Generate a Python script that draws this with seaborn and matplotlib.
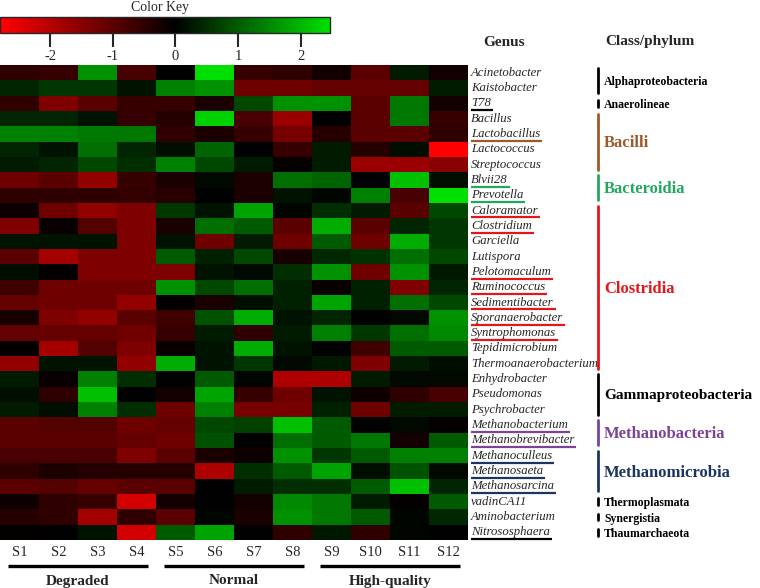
import matplotlib
matplotlib.use("Agg")
import numpy as np
import pandas as pd
import matplotlib.pyplot as plt
import seaborn as sns
from matplotlib.colors import LinearSegmentedColormap, Normalize
from matplotlib.cm import ScalarMappable
from matplotlib.transforms import blended_transform_factory

# Samples and groups
samples = ["S1", "S2", "S3", "S4", "S5", "S6", "S7", "S8", "S9", "S10", "S11", "S12"]
groups = ["Degraded", "Normal", "High-quality"]

# Row z-scores, grouped by class/phylum
alpha_genera = ["Acinetobacter", "Kaistobacter"]
alpha_vals = [
    [-0.5, -0.6, 1.6, -0.8, 0.0, 2.5, -0.6, -0.5, -0.2, -1.0, 0.3, -0.2],
    [0.4, 0.6, 0.6, 0.2, 1.4, 1.6, -1.2, -1.2, -1.1, -1.1, -1.1, 0.3],
]
anaero_genera = ["T78"]
anaero_vals = [
    [-0.5, -1.4, -1.0, -0.6, -0.6, -0.3, 0.8, 1.6, 1.6, -1.0, 1.3, -0.2],
]
bacilli_genera = ["Bacillus", "Lactobacillus", "Lactococcus", "Streptococcus"]
bacilli_vals = [
    [0.4, 0.4, 0.2, -0.6, -0.4, 2.3, -0.8, -1.7, 0.0, -1.0, 1.3, -0.6],
    [1.4, 1.4, 1.3, 1.3, -0.5, -0.3, -0.6, -1.3, -0.4, -1.0, -1.0, -0.5],
    [0.4, 0.2, 1.2, 0.4, 0.15, 1.1, 0.0, -0.6, 0.3, -0.4, 0.15, -2.8],
    [0.3, 0.4, 0.8, 0.5, 1.4, 0.8, 0.3, -0.05, 0.3, -1.7, -1.7, -1.5],
]
bactero_genera = ["Blvii28", "Prevotella"]
bactero_vals = [
    [-1.2, -1.0, -1.6, -0.6, -0.3, 0.1, -0.3, 1.2, 1.1, 0.0, 2.1, 0.15],
    [-0.5, -0.5, -0.5, -0.55, -0.45, 0.02, -0.3, 0.2, 0.05, 1.4, -0.8, 2.5],
]
clostridia_genera = ["Caloramator", "Clostridium", "Garciella", "Lutispora",
                     "Pelotomaculum", "Ruminococcus", "Sedimentibacter",
                     "Sporanaerobacter", "Syntrophomonas", "Tepidimicrobium",
                     "Thermoanaerobacterium"]
clostridia_vals = [
    [-0.15, -1.2, -1.6, -1.4, 0.6, 0.2, 1.8, 0.05, 0.5, 0.3, -1.0, 0.8],
    [-1.4, -0.1, -0.9, -1.4, -0.3, 1.2, 1.0, -1.0, 1.9, -1.0, 0.4, 0.6],
    [0.2, 0.2, 0.2, -1.4, 0.2, -1.2, 0.3, -1.2, 1.0, -1.2, 1.9, 0.6],
    [-1.0, -1.8, -1.4, -1.4, 1.0, 0.35, 0.8, -0.25, 0.45, 0.55, 1.2, 0.8],
    [0.15, -0.05, -1.4, -1.4, -1.4, 0.2, 0.1, 0.5, 1.6, -1.2, 1.6, 0.25],
    [-0.7, -1.2, -1.2, -1.2, 1.6, 0.8, 1.2, 0.35, -0.1, 0.35, -1.4, 0.4],
    [-1.1, -1.2, -1.2, -1.6, -0.05, -0.3, 0.15, 0.35, 1.8, 0.35, 1.2, 0.8],
    [-0.25, -1.4, -1.6, -1.0, -0.7, 0.9, 1.9, 0.2, 0.4, 0.0, 0.1, 1.6],
    [-1.1, -1.1, -1.1, -1.2, -0.6, 0.3, -0.5, 0.3, 1.4, 0.6, 1.2, 1.5],
    [-0.05, -1.8, -0.9, -1.4, -0.1, 0.2, 1.9, 0.2, 0.02, -0.7, 1.0, 1.0],
    [-1.6, 0.2, 0.2, -1.6, 1.9, 0.2, 0.6, 0.1, 0.25, -1.4, 0.3, 0.15],
]
gamma_genera = ["Enhydrobacter", "Pseudomonas", "Psychrobacter"]
gamma_vals = [
    [0.3, -0.1, 1.4, 0.5, 0.0, 1.0, 0.05, -1.9, -1.9, 0.3, 0.1, 0.1],
    [0.15, -0.5, 2.1, 0.0, -0.2, 1.8, -0.6, -1.2, 0.2, -0.15, -0.5, -0.8],
    [0.3, 0.15, 1.4, 0.5, -1.2, 1.4, -1.3, -1.3, 0.35, -1.2, 0.3, 0.3],
]
mbact_genera = ["Methanobacterium", "Methanobrevibacter"]
mbact_vals = [
    [-1.0, -0.9, -0.9, -1.2, -1.1, 0.8, 0.7, 2.1, 1.0, 0.02, 0.1, -0.05],
    [-1.0, -1.0, -1.0, -1.1, -1.2, 0.9, 0.0, 1.2, 1.0, 1.3, -0.2, 1.0],
]
mmicro_genera = ["Methanoculleus", "Methanosaeta", "Methanosarcina"]
mmicro_vals = [
    [-0.8, -0.8, -0.8, -1.4, -1.0, -0.3, -0.15, 1.6, 0.6, 1.0, 1.4, 1.4],
    [-0.5, -0.3, -0.4, -0.4, -0.4, -1.9, 0.5, 1.0, 1.8, 0.15, 0.9, 0.1],
    [-1.0, -0.9, -1.1, -1.0, -1.0, 0.0, 0.3, 0.5, 0.5, 1.0, 2.1, 0.4],
]
other_genera = ["vadinCA11", "Aminobacterium", "Nitrososphaera"]
other_vals = [
    [-0.15, -0.5, -0.6, -2.3, -0.2, 0.0, -0.2, 1.5, 1.3, 0.3, -0.05, 1.0],
    [-0.4, -0.5, -1.8, -0.5, -1.0, 0.05, -0.3, 1.6, 1.3, 1.0, 0.05, 0.45],
    [-0.05, 0.0, 0.2, -2.3, 1.0, 1.8, 0.0, -0.5, 0.25, -0.5, 0.05, 0.0],
]

genera = (alpha_genera + anaero_genera + bacilli_genera + bactero_genera +
          clostridia_genera + gamma_genera + mbact_genera + mmicro_genera + other_genera)
values = (alpha_vals + anaero_vals + bacilli_vals + bactero_vals + clostridia_vals +
          gamma_vals + mbact_vals + mmicro_vals + other_vals)

# Class/phylum brackets: name, first row, last row, colour, font size
brown = "#9C5A28"
green = "#22A85E"
red = "#E4161C"
purple = "#7D4399"
navy = "#1C3464"
classes = [
    ("Alphaproteobacteria", 0, 1, "black", 8.5),
    ("Anaerolineae", 2, 2, "black", 8.5),
    ("Bacilli", 3, 6, brown, 12),
    ("Bacteroidia", 7, 8, green, 12),
    ("Clostridia", 9, 19, red, 12),
    ("Gammaproteobacteria", 20, 22, "black", 11),
    ("Methanobacteria", 23, 24, purple, 12),
    ("Methanomicrobia", 25, 27, navy, 12),
    ("Thermoplasmata", 28, 28, "black", 8.5),
    ("Synergistia", 29, 29, "black", 8.5),
    ("Thaumarchaeota", 30, 30, "black", 8.5),
]

# underlined genera and their colour
underlined = {
    "T78": "black", "Lactobacillus": brown, "Blvii28": green, "Prevotella": green,
    "Caloramator": red, "Clostridium": red, "Pelotomaculum": red,
    "Ruminococcus": red, "Sedimentibacter": red, "Sporanaerobacter": red,
    "Syntrophomonas": red, "Methanobacterium": purple, "Methanobrevibacter": purple,
    "Methanoculleus": navy, "Methanosaeta": navy, "Methanosarcina": navy,
    "Nitrososphaera": "black",
}

df = pd.DataFrame(values, index=genera, columns=samples)

sns.set_style("white")
plt.rcParams["font.family"] = ["Liberation Serif", "DejaVu Serif"]
plt.rcParams["axes.unicode_minus"] = False

vmin, vmax = -2.8, 2.47
zero = -vmin / (vmax - vmin)
cmap = LinearSegmentedColormap.from_list(
    "rg", [(0.0, "#ff0000"), (zero, "#000000"), (1.0, "#00e000")])

W, H = 760, 588
fig = plt.figure(figsize=(W / 100, H / 100), dpi=100)

ax = fig.add_axes([0, 1 - 540 / H, 468 / W, 475 / H])
sns.heatmap(df, ax=ax, cmap=cmap, vmin=vmin, vmax=vmax, cbar=False,
            xticklabels=samples, yticklabels=False)
ax.tick_params(axis="x", length=0, pad=4, labelsize=10.5, rotation=0)
ax.set_xlabel("")
ax.set_ylabel("")

# colour key
cax = fig.add_axes([0, 1 - 33 / H, 330 / W, 16 / H])
sm = ScalarMappable(norm=Normalize(vmin, vmax), cmap=cmap)
cb = fig.colorbar(sm, cax=cax, orientation="horizontal")
cb.set_ticks([-2, -1, 0, 1, 2])
cb.ax.tick_params(length=10, width=1.5, labelsize=10.5, pad=2)
cb.outline.set_linewidth(1.0)
fig.text(160 / W, 1 - 0.5 / H, "Color Key", ha="center", va="top", fontsize=10)

# headers
fig.text(504 / W, 1 - 42 / H, "Genus", ha="center", va="center",
         fontsize=11, fontweight="bold")
fig.text(650 / W, 1 - 42 / H, "Class/phylum", ha="center", va="center",
         fontsize=11, fontweight="bold")

# genus labels with coloured underlines
fig.canvas.draw()
renderer = fig.canvas.get_renderer()
lab_x = 12.08
for i, g in enumerate(genera):
    t = ax.text(lab_x, i + 0.5, g, ha="left", va="center", fontsize=9.2,
                fontstyle="italic", clip_on=False)
    if g in underlined:
        bb = t.get_window_extent(renderer)
        x1 = ax.transData.inverted().transform((bb.x1, 0))[0]
        ax.plot([lab_x, x1 + 0.05], [i + 0.95, i + 0.95], color=underlined[g],
                lw=1.6, clip_on=False, solid_capstyle="butt")

# class brackets
tr = blended_transform_factory(fig.transFigure, ax.transData)
bx = 598 / W
for name, r0, r1, col, size in classes:
    if r0 == r1:
        y0, y1 = r0 + 0.28, r0 + 0.72
    else:
        y0, y1 = r0 + 0.18, r1 + 1 - 0.18
    ax.plot([bx, bx], [y0, y1], color=col, lw=2.0, transform=tr, clip_on=False)
    ax.text(604 / W, (r0 + r1 + 1) / 2 + 0.1, name, transform=tr, ha="left",
            va="center", color=col, fontsize=size, fontweight="bold", clip_on=False)

# sample group bars
group_spans = [(0, 4), (4, 8), (8, 12)]
ty = blended_transform_factory(ax.transData, fig.transFigure)
for name, (c0, c1) in zip(groups, group_spans):
    ax.plot([c0 + 0.2, c1 - 0.2], [1 - 566 / H] * 2, color="black", lw=2.4,
            transform=ty, clip_on=False, solid_capstyle="butt")
    ax.text((c0 + c1) / 2, 1 - 581 / H, name, transform=ty, ha="center",
            va="center", fontsize=11, fontweight="bold", clip_on=False)

fig.savefig("out.png", dpi=100)
